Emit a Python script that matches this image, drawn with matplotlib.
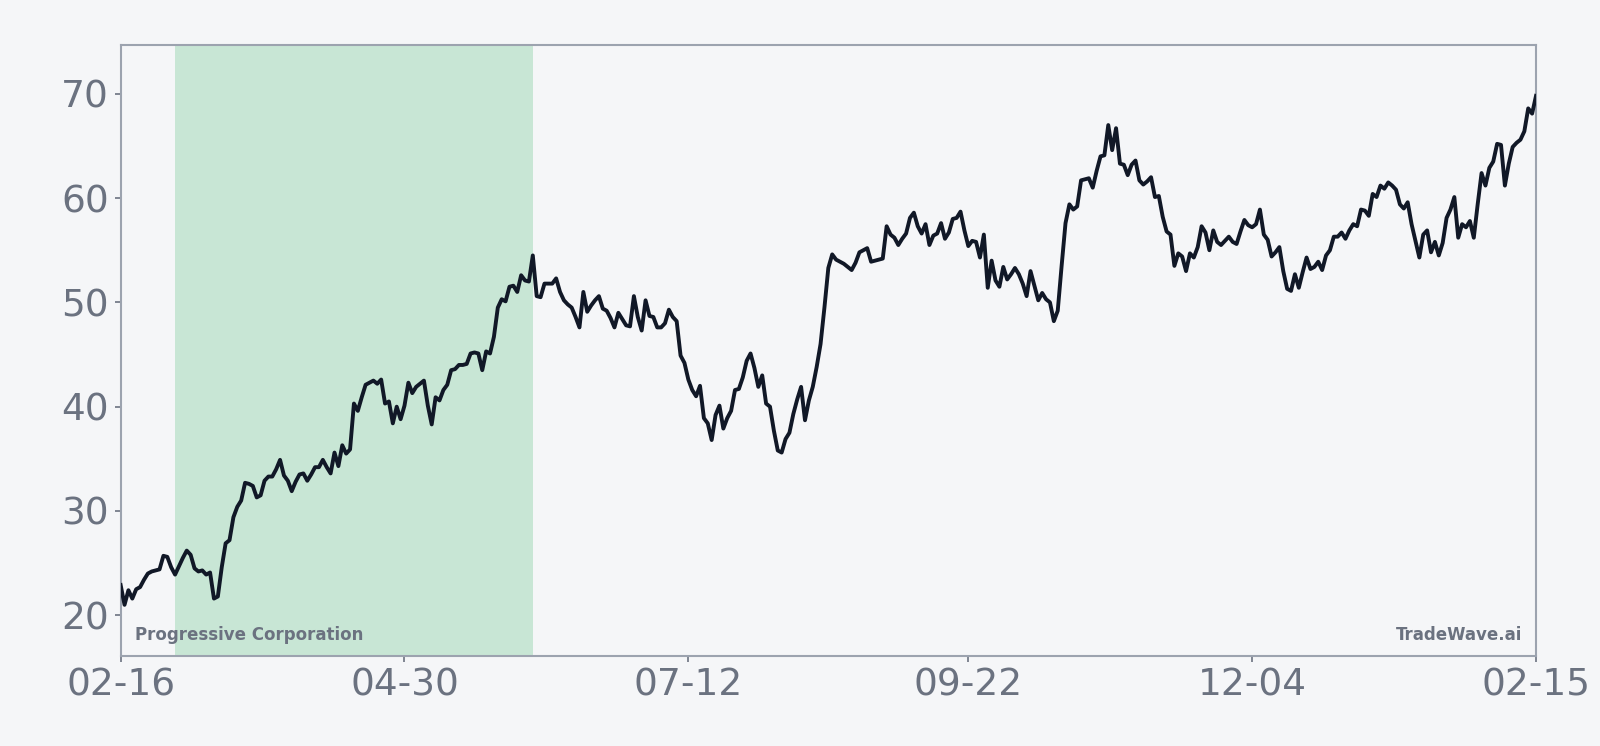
import matplotlib
matplotlib.use("Agg")
import matplotlib.pyplot as plt
import numpy as np
import pandas as pd

# daily closes, 2023-02-16 .. 2024-02-15
start_date = "2023-02-16"
prices = [
    22.9, 21.0, 22.4, 21.6, 22.5, 22.7, 23.4, 24.0, 24.2, 24.3,
    24.4, 25.7, 25.6, 24.6, 23.9, 24.7, 25.5, 26.2, 25.8, 24.5,
    24.2, 24.3, 23.9, 24.1, 21.6, 21.8, 24.6, 26.9, 27.2, 29.4,
    30.4, 31.0, 32.7, 32.6, 32.4, 31.3, 31.5, 32.9, 33.3, 33.3,
    34.0, 34.9, 33.4, 32.9, 31.9, 32.8, 33.5, 33.6, 32.9, 33.5,
    34.2, 34.2, 34.9, 34.2, 33.6, 35.6, 34.3, 36.3, 35.5, 35.9,
    40.3, 39.6, 40.9, 42.1, 42.3, 42.5, 42.2, 42.6, 40.3, 40.5,
    38.4, 40.0, 38.8, 40.1, 42.3, 41.3, 41.9, 42.2, 42.5, 40.1,
    38.3, 40.9, 40.6, 41.6, 42.1, 43.5, 43.6, 44.0, 44.0, 44.1,
    45.1, 45.2, 45.1, 43.5, 45.3, 45.1, 46.7, 49.5, 50.3, 50.1,
    51.5, 51.6, 51.0, 52.6, 52.1, 52.0, 54.5, 50.6, 50.5, 51.8,
    51.8, 51.8, 52.3, 51.0, 50.2, 49.8, 49.5, 48.6, 47.6, 51.0,
    49.1, 49.7, 50.2, 50.6, 49.4, 49.2, 48.5, 47.6, 49.0, 48.4,
    47.8, 47.7, 50.6, 48.6, 47.3, 50.2, 48.7, 48.6, 47.6, 47.6,
    48.0, 49.3, 48.6, 48.2, 44.9, 44.2, 42.6, 41.6, 41.0, 42.0,
    38.9, 38.4, 36.8, 39.2, 40.1, 37.9, 38.9, 39.6, 41.6, 41.7,
    42.8, 44.4, 45.1, 43.7, 41.9, 43.0, 40.3, 40.0, 37.7, 35.8,
    35.6, 36.9, 37.5, 39.3, 40.7, 41.9, 38.7, 40.6, 41.9, 43.8,
    46.0, 49.5, 53.3, 54.6, 54.1, 53.9, 53.7, 53.4, 53.1, 53.8,
    54.8, 55.0, 55.2, 53.9, 54.0, 54.1, 54.2, 57.3, 56.5, 56.2,
    55.5, 56.1, 56.6, 58.1, 58.6, 57.3, 56.6, 57.5, 55.5, 56.4,
    56.6, 57.6, 56.1, 56.7, 58.0, 58.1, 58.7, 56.9, 55.4, 55.9,
    55.8, 54.3, 56.5, 51.4, 54.0, 52.1, 51.5, 53.4, 52.2, 52.7,
    53.3, 52.7, 51.8, 50.6, 53.0, 51.6, 50.2, 50.9, 50.3, 50.0,
    48.2, 49.2, 53.5, 57.6, 59.4, 58.9, 59.2, 61.7, 61.8, 61.9,
    61.0, 62.6, 64.0, 64.1, 67.0, 64.6, 66.7, 63.3, 63.2, 62.2,
    63.2, 63.6, 61.7, 61.3, 61.6, 62.0, 60.1, 60.2, 58.2, 56.8,
    56.5, 53.5, 54.7, 54.4, 53.0, 54.7, 54.3, 55.3, 57.3, 56.7,
    55.0, 56.9, 55.8, 55.5, 55.9, 56.3, 55.8, 55.6, 56.8, 57.9,
    57.4, 57.2, 57.5, 58.9, 56.5, 56.0, 54.4, 54.8, 55.3, 53.0,
    51.3, 51.1, 52.7, 51.4, 52.9, 54.3, 53.2, 53.4, 53.9, 53.1,
    54.5, 55.0, 56.3, 56.3, 56.7, 56.1, 56.9, 57.5, 57.3, 58.9,
    58.8, 58.3, 60.4, 60.1, 61.2, 60.9, 61.5, 61.2, 60.8, 59.4,
    59.0, 59.6, 57.5, 55.9, 54.3, 56.5, 56.9, 54.8, 55.8, 54.5,
    55.7, 58.1, 58.9, 60.1, 56.2, 57.5, 57.2, 57.8, 56.2, 59.4,
    62.4, 61.2, 62.9, 63.5, 65.2, 65.1, 61.2, 63.3, 64.9, 65.3,
    65.6, 66.4, 68.6, 68.1, 69.8,
]
shade_start = "2023-03-02"
shade_end = "2023-06-02"
company = "Progressive Corporation"
brand = "TradeWave.ai"

dates = pd.date_range(start_date, periods=len(prices), freq="D")
prices = np.array(prices)

BG = "#f5f6f8"
GRAY = "#6b7280"

fig = plt.figure(figsize=(16, 7.46), dpi=100, facecolor=BG)
ax = fig.add_axes([0.0754, 0.121, 0.8846, 0.8187])
ax.set_facecolor(BG)

ax.axvspan(pd.Timestamp(shade_start), pd.Timestamp(shade_end), color="#c8e6d5", lw=0, zorder=1)
ax.plot(dates, prices, color="#111827", lw=2.8, zorder=3)

ax.set_xlim(dates[0], dates[-1])
rng = prices.max() - prices.min()
ax.set_ylim(prices.min() - 0.1 * rng, prices.max() + 0.1 * rng)

idx = np.round(np.linspace(0, len(dates) - 1, 6)).astype(int)
ax.set_xticks(dates[idx])
ax.set_xticklabels([d.strftime("%m-%d") for d in dates[idx]])
ax.set_yticks([20, 30, 40, 50, 60, 70])

ax.tick_params(axis="both", labelsize=27, colors=GRAY, length=4, width=1.2, pad=4.5)
for s in ax.spines.values():
    s.set_color("#9ca3af")
    s.set_linewidth(1.5)

ax.text(0.01, 0.02, company, transform=ax.transAxes, fontsize=12,
        fontweight="bold", color=GRAY, ha="left", va="bottom", zorder=4)
ax.text(0.99, 0.02, brand, transform=ax.transAxes, fontsize=12,
        fontweight="bold", color=GRAY, ha="right", va="bottom", zorder=4)

fig.savefig("out.png", dpi=100, facecolor=BG)
